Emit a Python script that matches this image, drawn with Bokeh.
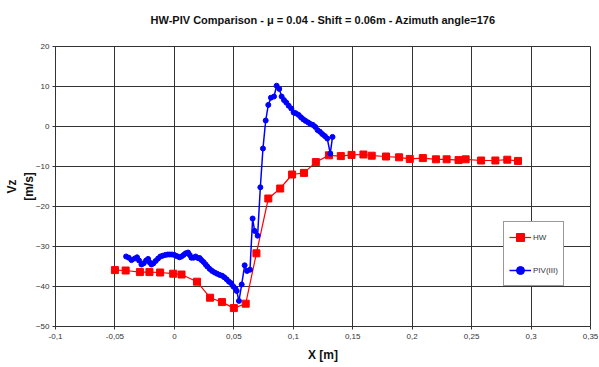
from bokeh.plotting import figure
from bokeh.models import Range1d, FixedTicker, Legend, LinearAxis, Grid
from bokeh.embed import file_html
from bokeh.resources import INLINE

# HW series (red squares)
hw_x = [-0.050, -0.041, -0.029, -0.021, -0.012, -0.001, 0.006, 0.019, 0.030, 0.040,
        0.050, 0.060, 0.069, 0.079, 0.089, 0.099, 0.109, 0.119, 0.130, 0.140,
        0.149, 0.159, 0.166, 0.178, 0.189, 0.198, 0.209, 0.220, 0.229, 0.239,
        0.245, 0.258, 0.270, 0.280, 0.289]
hw_v = [-35.9, -36.0, -36.4, -36.4, -36.5, -36.8, -37.0, -38.8, -42.8, -43.9,
        -45.4, -44.3, -31.7, -18.0, -15.5, -12.0, -11.6, -8.9, -7.2, -7.4,
        -7.1, -7.0, -7.3, -7.5, -7.7, -8.1, -7.9, -8.2, -8.2, -8.4,
        -8.2, -8.5, -8.5, -8.3, -8.6]

# PIV(III) series (blue circles)
piv_x = [-0.0406, -0.0384, -0.0361, -0.0333, -0.0314, -0.0297, -0.0277, -0.0258, -0.0238, -0.0221,
         -0.0207, -0.0193, -0.0176, -0.0157, -0.0137, -0.0118, -0.0098, -0.0076, -0.0056, -0.0039,
         -0.0020, 0.0000, 0.0020, 0.0042, 0.0059, 0.0078, 0.0095, 0.0115, 0.0129, 0.0143,
         0.0162, 0.0179, 0.0199, 0.0213, 0.0227, 0.0246, 0.0263, 0.0277, 0.0297, 0.0317,
         0.0339, 0.0359, 0.0381, 0.0401, 0.0420, 0.0440, 0.0459, 0.0479, 0.0496, 0.0513,
         0.0524, 0.0543, 0.0566, 0.0591, 0.0611, 0.0636, 0.0658, 0.0675, 0.0700, 0.0723,
         0.0745, 0.0768, 0.0790, 0.0812, 0.0838, 0.0860, 0.0882, 0.0902, 0.0922, 0.0941,
         0.0961, 0.0983, 0.1003, 0.1022, 0.1045, 0.1065, 0.1084, 0.1104, 0.1126, 0.1146,
         0.1165, 0.1185, 0.1204, 0.1224, 0.1244, 0.1266, 0.1286, 0.1311, 0.1330]
piv_v = [-32.5, -32.8, -33.4, -33.0, -32.7, -33.5, -34.5, -34.2, -33.5, -33.1,
         -34.0, -34.5, -34.2, -33.6, -33.0, -32.5, -32.3, -32.1, -32.0, -32.0,
         -32.0, -32.1, -32.4, -32.7, -32.5, -32.1, -31.7, -31.5, -32.1, -32.8,
         -32.8, -32.5, -32.9, -32.9, -33.4, -33.9, -34.5, -35.0, -35.6, -36.1,
         -36.5, -36.8, -37.1, -37.3, -37.7, -38.2, -38.8, -39.2, -40.0, -40.5,
         -41.1, -43.6, -39.5, -34.7, -36.1, -35.8, -23.0, -26.1, -27.3, -15.2,
         -5.5, 1.5, 5.4, 7.2, 7.5, 10.2, 9.4, 7.5, 6.6, 6.0,
         5.2, 4.5, 3.5, 3.3, 2.9, 2.3, 1.8, 1.4, 1.0, 0.6,
         0.4, -0.1, -0.9, -1.3, -1.9, -2.4, -3.0, -6.8, -2.6]

x_ticks = [-0.1, -0.05, 0, 0.05, 0.1, 0.15, 0.2, 0.25, 0.3, 0.35]
x_tick_labels = ["-0,1", "-0,05", "0", "0,05", "0,1", "0,15", "0,2", "0,25", "0,3", "0,35"]
y_ticks = [-50, -40, -30, -20, -10, 0, 10, 20]

FONT = "Liberation Sans"

p = figure(width=599, height=367, output_backend="svg", toolbar_location=None,
           x_range=Range1d(-0.1, 0.35), y_range=Range1d(-50, 20),
           x_axis_type=None, y_axis_type=None,
           min_border_left=55, min_border_right=9, min_border_top=46, min_border_bottom=41,
           title="HW-PIV Comparison - \u03bc = 0.04 - Shift = 0.06m - Azimuth angle=176\n ")
p.title.align = "center"
p.title.text_font = FONT
p.title.text_font_size = "11px"
p.title.text_font_style = "bold"
p.title.text_color = "#111111"
p.title.offset = 0
p.title.standoff = 17

p.background_fill_color = "white"
p.border_fill_color = "white"
p.outline_line_color = "#333333"
p.outline_line_width = 1

xt = FixedTicker(ticks=x_ticks)
yt = FixedTicker(ticks=y_ticks)
xaxis = LinearAxis(ticker=xt, axis_label="X [m]")
yaxis = LinearAxis(ticker=yt, axis_label="Vz\n[m/s]")
xaxis.major_label_overrides = {t: l for t, l in zip(x_ticks, x_tick_labels)}
for ax in (xaxis, yaxis):
    ax.major_label_text_font = FONT
    ax.major_label_text_font_size = "8px"
    ax.major_label_text_color = "#333333"
    ax.minor_tick_line_color = None
    ax.major_tick_in = 0
    ax.major_tick_out = 3
    ax.axis_line_color = "#333333"
    ax.major_tick_line_color = "#333333"
    ax.major_label_standoff = 4
    ax.axis_label_text_font = FONT
    ax.axis_label_text_font_style = "bold"
    ax.axis_label_text_font_size = "12px"
    ax.axis_label_text_color = "#111111"
xaxis.axis_label_standoff = 6
yaxis.major_label_standoff = 3
yaxis.axis_label_standoff = -3
p.add_layout(xaxis, "below")
p.add_layout(yaxis, "left")
p.add_layout(Grid(dimension=0, ticker=xt, grid_line_color="#333333"))
p.add_layout(Grid(dimension=1, ticker=yt, grid_line_color="#333333"))

r_hw_l = p.line(hw_x, hw_v, line_color="#FF0000", line_width=1.2)
r_hw_m = p.scatter(hw_x, hw_v, marker="square", size=7, fill_color="#FF0000", line_color="#FF0000")
r_piv_l = p.line(piv_x, piv_v, line_color="#0000FF", line_width=1.5)
r_piv_m = p.scatter(piv_x, piv_v, marker="circle", size=5, fill_color="#0000FF", line_color="#0000FF")

legend = Legend(items=[("HW", [r_hw_l, r_hw_m]), ("PIV(III)", [r_piv_l, r_piv_m])],
                location=(448, 40), orientation="vertical")
legend.label_text_font = FONT
legend.label_text_font_size = "8px"
legend.label_text_color = "#333333"
legend.border_line_color = "#333333"
legend.border_line_width = 1
legend.background_fill_color = "white"
legend.background_fill_alpha = 1
legend.glyph_width = 22
legend.glyph_height = 20
legend.label_height = 20
legend.label_standoff = 2
legend.spacing = 13
legend.padding = 5
legend.margin = 0
p.add_layout(legend, "center")

open("out.html", "w").write(file_html(p, INLINE))
